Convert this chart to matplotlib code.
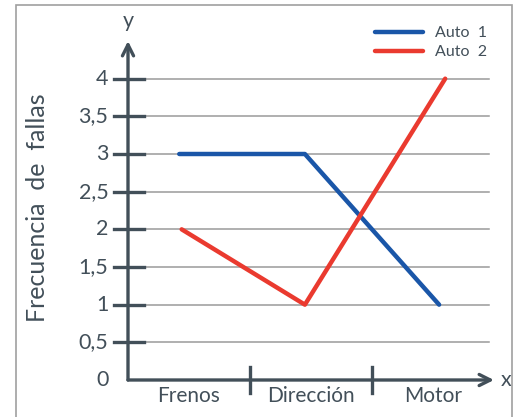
import matplotlib.pyplot as plt
from matplotlib.patches import Rectangle

categorias = ['Frenos', 'Dirección', 'Motor']
auto1 = [3, 3, 1]
auto2 = [2, 1, 4]
y_ticks = [0, 0.5, 1, 1.5, 2, 2.5, 3, 3.5, 4]
y_labels = ['0', '0,5', '1', '1,5', '2', '2,5', '3', '3,5', '4']

azul = '#1a56a8'
rojo = '#ea3a2f'
gris = '#424f59'

plt.rcParams['font.family'] = ['Lato', 'DejaVu Sans']

fig = plt.figure(figsize=(5.24, 4.17), dpi=100)
fig.patches.append(Rectangle((16 / 524, -0.1), 496 / 524, 1.1 - 5 / 417,
                             transform=fig.transFigure, fill=False,
                             edgecolor='#a0a0a0', linewidth=1.2))

ax = fig.add_axes([128 / 524, 37 / 417, 366 / 524, 339 / 417])
ax.set_xlim(0, 3)
ax.set_ylim(0, 4.5)
ax.axis('off')

# lineas de la cuadricula
for v in y_ticks[1:]:
    ax.plot([0, 2.96], [v, v], color='#9a9a9a', linewidth=1.1, zorder=1)

# ejes con flecha
ax.annotate('', xy=(3.0, 0), xytext=(0, 0), annotation_clip=False,
            arrowprops=dict(arrowstyle='->', color=gris, lw=2.4,
                            mutation_scale=20, shrinkA=0, shrinkB=0))
ax.annotate('', xy=(0, 4.5), xytext=(0, 0), annotation_clip=False,
            arrowprops=dict(arrowstyle='->', color=gris, lw=2.4,
                            mutation_scale=20, shrinkA=0, shrinkB=0))

# marcas del eje y
for v, lab in zip(y_ticks, y_labels):
    if v > 0:
        ax.plot([-0.115, 0.13], [v, v], color=gris, linewidth=2.4,
                clip_on=False, zorder=3)
    ax.text(-0.16, v, lab, ha='right', va='center', fontsize=15.5,
            color=gris)

# divisiones de categorias
for i in range(1, len(categorias)):
    ax.plot([i, i], [-0.17, 0.17], color=gris, linewidth=2.4,
            clip_on=False, zorder=3)

pos = [i + 0.5 for i in range(len(categorias))]
for p, c in zip(pos, categorias):
    ax.text(p, -0.21, c, ha='center', va='center', fontsize=15,
            color=gris)

ax.plot([0.42, 1.45, 2.55], auto1, color=azul, linewidth=3.2,
        solid_capstyle='round', zorder=4, label='Auto  1')
ax.plot([0.44, 1.45, 2.6], auto2, color=rojo, linewidth=3.2,
        solid_capstyle='round', zorder=4, label='Auto  2')

ax.text(0, 4.77, 'y', ha='center', va='center', fontsize=15.5, color=gris)
ax.text(3.1, 0, 'x', ha='center', va='center', fontsize=15.5, color=gris)

fig.text(38 / 524, 1 - 208 / 417, 'Frecuencia  de  fallas', rotation=90,
         ha='center', va='center', fontsize=18, color=gris)

leg = ax.legend(loc='upper right', bbox_to_anchor=(1.0, 1.063), frameon=False,
                fontsize=11.5, handlelength=3.0, labelspacing=0.3,
                handletextpad=0.8, borderaxespad=0)
for t in leg.get_texts():
    t.set_color(gris)

fig.savefig('out.png', dpi=100)
